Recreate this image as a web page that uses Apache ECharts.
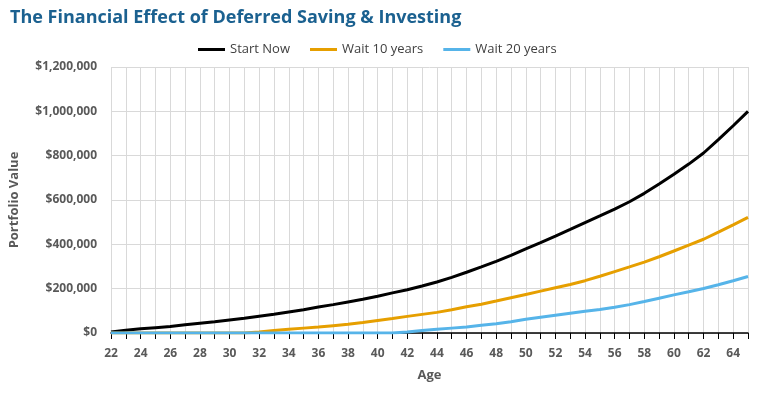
<!DOCTYPE html>
<html>
<head>
<meta charset="utf-8">
<script src="https://cdn.jsdelivr.net/npm/echarts@6/dist/echarts.min.js"></script>
<style>html,body{margin:0;padding:0;background:#fff}#c{width:767px;height:399px}</style>
</head>
<body>
<div id="c"></div>
<script>
const ages = [22,23,24,25,26,27,28,29,30,31,32,33,34,35,36,37,38,39,40,41,42,43,44,45,46,47,48,49,50,51,52,53,54,55,56,57,58,59,60,61,62,63,64,65];
const startNow = [4000,12000,19000,24000,29000,37000,44000,51000,59000,67000,76000,85000,95000,105000,117000,128000,140000,152000,166000,181000,195000,212000,230000,251000,274000,298000,323000,350000,380000,408000,437000,467000,498000,528000,559000,592000,630000,672000,716000,762000,812000,872000,935000,1000000];
const wait10 = [0,0,0,0,0,0,0,0,0,0,5000,11000,17000,22000,27000,33000,39000,47000,56000,65000,75000,84000,93000,105000,118000,130000,144000,159000,174000,189000,204000,219000,236000,256000,277000,298000,320000,344000,370000,396000,423000,455000,488000,522000];
const wait20 = [0,0,0,0,0,0,0,0,0,0,0,0,0,0,0,0,0,0,0,0,4000,11000,17000,22000,27000,35000,42000,51000,62000,71000,80000,89000,98000,106000,116000,128000,142000,157000,172000,186000,201000,218000,236000,255000];
const seriesNames = ['Start Now','Wait 10 years','Wait 20 years'];
const colors = ['#000000','#E69F00','#56B4E9'];

const chart = echarts.init(document.getElementById('c'), null, {renderer:'canvas'});
const font = '"Open Sans", "Noto Sans", sans-serif';
chart.setOption({
  animation:false,
  title:{text:'The Financial Effect of Deferred Saving & Investing', left:5, top:4,
    textStyle:{fontFamily:font, fontSize:18, fontWeight:'bold', color:'#1B6190'}},
  legend:{top:38, left:193, itemWidth:27, itemHeight:3, itemGap:20,
    icon:'rect',
    textStyle:{fontFamily:font, fontSize:13, color:'#404040'},
    data:seriesNames},
  grid:{left:111, right:19, top:67, bottom:66, containLabel:false},
  xAxis:{type:'category', data:ages, boundaryGap:false,
    name:'Age', nameLocation:'middle', nameGap:36,
    nameTextStyle:{fontFamily:font, fontSize:13, color:'#595959', fontWeight:'bold'},
    axisLine:{lineStyle:{color:'#000', width:1.5}},
    axisTick:{show:true, interval:0, length:6, lineStyle:{color:'#000'}},
    axisLabel:{interval:1, fontFamily:font, fontSize:12, color:'#595959', fontWeight:'bold', margin:15},
    splitLine:{show:true, interval:0, lineStyle:{color:'#D9D9D9', width:1}}},
  yAxis:{type:'value', min:0, max:1200000, interval:200000,
    name:'Portfolio Value', nameLocation:'middle', nameGap:90,
    nameTextStyle:{fontFamily:font, fontSize:13, color:'#595959', fontWeight:'bold'},
    axisLine:{show:false}, axisTick:{show:false},
    axisLabel:{fontFamily:font, fontSize:12, color:'#595959', fontWeight:'bold', margin:14,
      formatter:v=>'$'+v.toLocaleString('en-US')},
    splitLine:{lineStyle:{color:'#D9D9D9', width:1}}},
  series:[startNow, wait10, wait20].map((d,i)=>({
    name:seriesNames[i], type:'line', data:d, showSymbol:false, symbol:'none',
    lineStyle:{color:colors[i], width:3}, itemStyle:{color:colors[i]}
  }))
});
</script>
</body>
</html>
